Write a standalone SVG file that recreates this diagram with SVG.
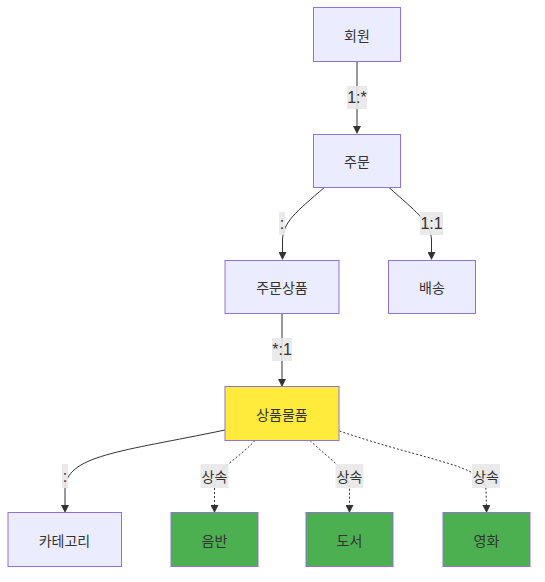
<svg xmlns="http://www.w3.org/2000/svg" width="545" height="582" viewBox="0 0 545 582">
<style>
.node rect{fill:#ECECFF;stroke:#9370DB;stroke-width:1}
.node.yellow rect{fill:#FFEB3B}
.node.green rect{fill:#4CAF50}
.node text,.lbl text.ko{font-family:"Noto Sans CJK KR","Liberation Sans",sans-serif;font-size:14px;fill:#333;text-anchor:middle;dominant-baseline:central}
.lbl rect{fill:#E8E8E8;fill-opacity:0.9}
.lbl text{font-family:"Liberation Sans","Noto Sans CJK KR",sans-serif;font-size:16px;fill:#333;text-anchor:middle;dominant-baseline:central}
.edge{fill:none;stroke:#333;stroke-width:1}
.dot{stroke-dasharray:2 2}
</style>
<defs>
<marker id="arr" viewBox="0 0 10 10" refX="5" refY="5" markerUnits="userSpaceOnUse" markerWidth="8" markerHeight="8" orient="auto">
<path d="M0,0 L10,5 L0,10 z" fill="#333"/>
</marker>
</defs>
<g id="edges">
<path class="edge" marker-end="url(#arr)" d="M357,61 L357,130"/>
<path class="edge" marker-end="url(#arr)" d="M324.3,187.5 C296,212 283,222 282.5,240 L282.5,256"/>
<path class="edge" marker-end="url(#arr)" d="M389,187.5 C414,210 431,222 431.5,240 L431.5,256"/>
<path class="edge" marker-end="url(#arr)" d="M282,314 L282,383"/>
<path class="edge" marker-end="url(#arr)" d="M225,430 C120,452 65,455 65,490 L65,509"/>
<path class="edge dot" marker-end="url(#arr)" d="M255,440.5 C235,462 214.5,468 214.5,490 L214.5,509"/>
<path class="edge dot" marker-end="url(#arr)" d="M310,440.5 C330,460 349.5,470 349.5,490 L349.5,509"/>
<path class="edge dot" marker-end="url(#arr)" d="M339.5,431 C430,462 485,465 486,490 L486.5,509"/>
</g>
<g id="edge-labels">
<g class="lbl"><rect x="347" y="86" width="20" height="23"/><text x="357" y="97.5">1:*</text></g>
<g class="lbl"><rect x="279" y="212" width="6" height="23"/><text x="282" y="223.5">:</text></g>
<g class="lbl"><rect x="420" y="212" width="23" height="23"/><text x="431.5" y="223.5">1:1</text></g>
<g class="lbl"><rect x="272" y="338" width="20" height="23"/><text x="282" y="349.5">*:1</text></g>
<g class="lbl"><rect x="62" y="464" width="6" height="24"/><text x="65" y="476">:</text></g>
<g class="lbl"><rect x="200.5" y="464" width="28" height="24"/><text class="ko" x="214.5" y="476">상속</text></g>
<g class="lbl"><rect x="335.5" y="464" width="28" height="24"/><text class="ko" x="349.5" y="476">상속</text></g>
<g class="lbl"><rect x="472" y="464" width="28" height="24"/><text class="ko" x="486" y="476">상속</text></g>
</g>
<g id="n-member" class="node"><rect x="313.5" y="7.5" width="87" height="54"/><text x="357" y="34.5">회원</text></g>
<g id="n-order" class="node"><rect x="313.5" y="134.5" width="87" height="53"/><text x="357" y="161">주문</text></g>
<g id="n-orderitem" class="node"><rect x="225" y="260.5" width="114" height="53"/><text x="282" y="287">주문상품</text></g>
<g id="n-delivery" class="node"><rect x="388.5" y="260.5" width="87" height="53"/><text x="432" y="287">배송</text></g>
<g id="n-item" class="node yellow"><rect x="225" y="386.5" width="114" height="54"/><text x="282" y="413.5">상품물품</text></g>
<g id="n-category" class="node"><rect x="8" y="512.5" width="113.5" height="54"/><text x="64.5" y="539.5">카테고리</text></g>
<g id="n-album" class="node green"><rect x="171" y="512.5" width="87" height="54"/><text x="214.5" y="539.5">음반</text></g>
<g id="n-book" class="node green"><rect x="306" y="512.5" width="87" height="54"/><text x="349.5" y="539.5">도서</text></g>
<g id="n-movie" class="node green"><rect x="443" y="512.5" width="87" height="54"/><text x="486.5" y="539.5">영화</text></g>
</svg>
